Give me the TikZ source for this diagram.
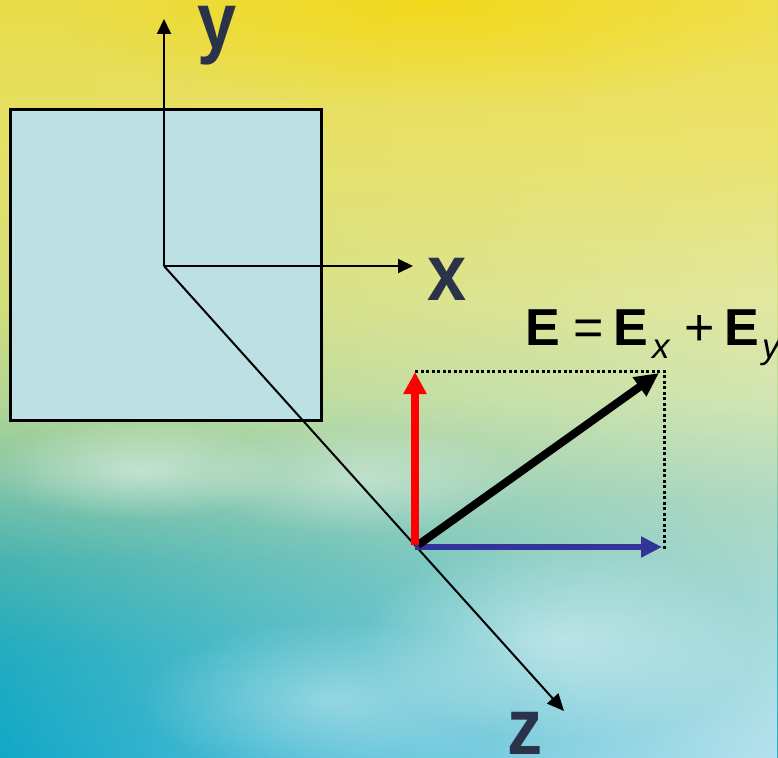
\documentclass[tikz,border=0pt]{standalone}
\usepackage{fontspec}
\setmainfont{Liberation Sans}
\usepackage{graphicx}
\usetikzlibrary{arrows.meta,fadings}
\definecolor{labcol}{HTML}{2A3349}
\definecolor{boxcol}{HTML}{BCE0E4}
\definecolor{bluevec}{HTML}{333399}
\definecolor{redvec}{HTML}{FF0000}
\definecolor{glow}{HTML}{F4D810}
% left column of the background
\definecolor{La}{HTML}{E8DC48}
\definecolor{Lb}{HTML}{E4E068}
\definecolor{Lc}{HTML}{D2DE7A}
\definecolor{Ld}{HTML}{B2D694}
\definecolor{Le}{HTML}{84C6A6}
\definecolor{Lf}{HTML}{48B4B0}
\definecolor{Lg}{HTML}{22ACC0}
\definecolor{Lh}{HTML}{12A8C8}
% right column of the background
\definecolor{Ra}{HTML}{F0E050}
\definecolor{Rb}{HTML}{ECE470}
\definecolor{Rc}{HTML}{E2E8A0}
\definecolor{Rd}{HTML}{D2E6B4}
\definecolor{Re}{HTML}{B0DAC4}
\definecolor{Rf}{HTML}{A6DAD6}
\definecolor{Rg}{HTML}{B6E2EE}
\pgfdeclareverticalshading{leftcol}{100bp}{color(0bp)=(Lh); color(25bp)=(Lh); color(32.07bp)=(Lg); color(38.01bp)=(Lf); color(43.30bp)=(Le); color(48.58bp)=(Ld); color(55.18bp)=(Lc); color(65.09bp)=(Lb); color(75bp)=(La); color(100bp)=(La)}
\pgfdeclareverticalshading{rightcol}{100bp}{color(0bp)=(Rg); color(25bp)=(Rg); color(35.37bp)=(Rf); color(41.97bp)=(Re); color(48.58bp)=(Rd); color(55.18bp)=(Rc); color(65.09bp)=(Rb); color(75bp)=(Ra); color(100bp)=(Ra)}
\tikzfading[name=fadeleft, left color=transparent!100, middle color=transparent!25, right color=transparent!0]
\tikzfading[name=softblob, inner color=transparent!0, outer color=transparent!100]
\tikzset{
  axis/.style={line width=2pt, -{Triangle[length=15pt,width=14pt]}},
  zaxis/.style={line width=2pt, -{Triangle[length=17pt,width=15pt]}},
  dotline/.style={line width=3pt, dash pattern=on 3pt off 2.5pt},
  lab/.style={inner sep=0pt, anchor=base west, text=labcol, text height=42pt, text depth=0pt, font=\fontsize{80}{80}\selectfont\bfseries},
  eqbold/.style={inner sep=0pt, anchor=base west, font=\fontsize{52}{52}\selectfont\bfseries},
  eqsym/.style={inner sep=0pt, anchor=base west, font=\fontsize{52}{52}\selectfont},
  eqsub/.style={inner sep=0pt, anchor=base west, font=\fontsize{35}{35}\selectfont\itshape},
  blob/.style={fill=white, path fading=softblob}
}
\begin{document}
\begin{tikzpicture}[x=1pt,y=-1pt]
\useasboundingbox (0,0) rectangle (778,757);
\shade[shading=leftcol] (0,0) rectangle (778,757);
\shade[shading=rightcol, path fading=fadeleft] (0,0) rectangle (778,757);
% soft lights of the background
\fill[glow, path fading=softblob, opacity=0.8] (430,0) ellipse (380pt and 110pt);
\fill[blob, opacity=0.45] (140,470) ellipse (150pt and 50pt);
\fill[blob, opacity=0.35] (360,480) ellipse (170pt and 55pt);
\fill[blob, opacity=0.45] (560,640) ellipse (200pt and 100pt);
\fill[blob, opacity=0.35] (330,700) ellipse (190pt and 80pt);

% box
\node[draw, line width=3pt, fill=boxcol, minimum width=311pt, minimum height=311pt, inner sep=0pt] (box) at (166,265) {};

% axes
\coordinate (O) at (164,266);
\coordinate (ytip) at (164,19);
\coordinate (xtip) at (413,266);
\coordinate (ztip) at (564,711);
\draw[axis] (O) -- (ytip);
\draw[axis] (O) -- (xtip);
\draw[zaxis] (O) -- (ztip);

\node[lab, text depth=17pt] (ylab) at (197,48.5) {\scalebox{0.88}[1]{y}};
\node[lab] (xlab) at (427,300) {\scalebox{0.88}[1]{x}};
\node[lab] (zlab) at (507,754) {\scalebox{0.88}[1]{z}};

% vectors
\coordinate (Eo) at (415,546);
\coordinate (Rs) at (415,545);
\coordinate (Rt) at (415,372);
\coordinate (Bs) at (415,547);
\coordinate (Bt) at (662,547);
\coordinate (Ks) at (418,545);
\coordinate (Kt) at (659,373);
\coordinate (Dl) at (415,371);
\coordinate (Dc) at (664,371);
\coordinate (Db) at (664,550);
\draw[dotline] (Dl) -- (Dc) -- (Db);
\draw[bluevec, line width=6.5pt, -{Triangle[length=21pt,width=20pt]}] (Bs) -- (Bt);
\draw[black, line width=8pt, -{Triangle[length=24pt,width=22pt]}] (Ks) -- (Kt);
\draw[redvec, line width=8pt, -{Triangle[length=22pt,width=22pt]}] (Rs) -- (Rt);

% equation
\node[eqbold] (E1) at (525,345) {E};
\node[eqsym] (eqs) at (573.5,345) {=};
\node[eqbold] (E2) at (613,345) {E};
\node[eqsub] (sx) at (652,358) {x};
\node[eqsym] (plus) at (684,345) {+};
\node[eqbold] (E3) at (724,345) {E};
\node[eqsub] (sy) at (762,358) {y};
\end{tikzpicture}
\end{document}
